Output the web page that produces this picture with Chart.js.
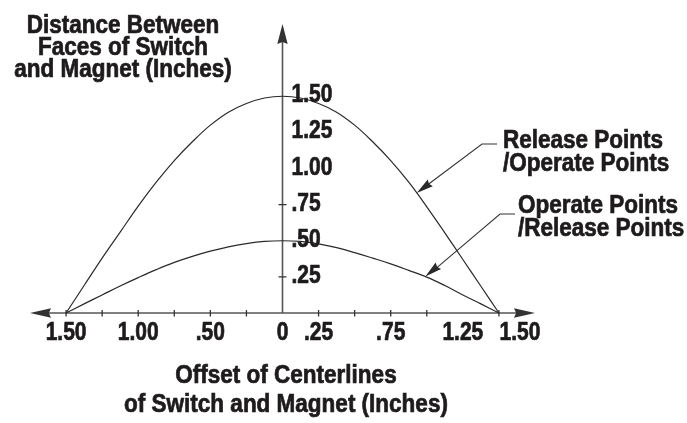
<!DOCTYPE html>
<html>
<head>
<meta charset="utf-8">
<script src="https://cdn.jsdelivr.net/npm/chart.js@4.4.1/dist/chart.umd.min.js"></script>
<style>
  html, body { margin: 0; padding: 0; background: #fff; }
  #chart { display: block; }
</style>
</head>
<body>
<canvas id="chart" width="687" height="423"></canvas>
<script>
// Offset of centerlines (inches)
const offsets = [-1.5, -1.375, -1.25, -1.125, -1.0, -0.875, -0.75, -0.625, -0.5, -0.375, -0.25, -0.125, 0,
                 0.125, 0.25, 0.375, 0.5, 0.625, 0.75, 0.875, 1.0, 1.125, 1.25, 1.375, 1.5];
// outer curve: Release Points / Operate Points
const releaseOperate = [0, 0.19, 0.38, 0.56, 0.74, 0.905, 1.055, 1.185, 1.30, 1.39, 1.45, 1.488, 1.5,
                        1.488, 1.45, 1.39, 1.30, 1.185, 1.055, 0.905, 0.735, 0.555, 0.37, 0.185, 0];
// inner curve: Operate Points / Release Points
const operateRelease = [0, 0.063, 0.125, 0.187, 0.245, 0.30, 0.35, 0.392, 0.428, 0.458, 0.48, 0.495, 0.5,
                        0.495, 0.478, 0.452, 0.418, 0.38, 0.34, 0.295, 0.248, 0.19, 0.125, 0.063, 0];

const xTicks = [-1.5, -1.25, -1, -0.75, -0.5, -0.25, 0.25, 0.5, 0.75, 1, 1.5];
const xLabelValues = [-1.5, -1, -0.5, 0, 0.25, 0.75, 1.25, 1.5];
const xLabels = ['1.50', '1.00', '.50', '0', '.25', '.75', '1.25', '1.50'];
const yTicks = [0.25, 0.75];
const yLabelValues = [1.5, 1.25, 1.0, 0.75, 0.5, 0.25];
const yLabels = ['1.50', '1.25', '1.00', '.75', '.50', '.25'];

const yTitle = ['Distance Between', 'Faces of Switch', 'and Magnet (Inches)'];
const xTitle = ['Offset of Centerlines', 'of Switch and Magnet (Inches)'];
const outerCallout = ['Release Points', '/Operate Points'];
const innerCallout = ['Operate Points', '/Release Points'];

// no narrow face installed, so Liberation Sans gets squeezed sideways
const FONT = "bold 25px 'Liberation Sans', Arial, sans-serif";
const INK = '#1e1b1c';
const TEXT_SQUEEZE = 0.9;
const TICK_SQUEEZE = 0.84;

function toPoints(ys) {
    return offsets.map((x, i) => ({ x, y: ys[i] }));
}

// linear lookup on a series, used to put the callout tips on the curves
function valueAt(ys, x) {
    for (let i = 0; i < offsets.length - 1; i++) {
        if (x >= offsets[i] && x <= offsets[i + 1]) {
            const t = (x - offsets[i]) / (offsets[i + 1] - offsets[i]);
            return ys[i] + t * (ys[i + 1] - ys[i]);
        }
    }
    return 0;
}

function stretchText(ctx, text, x, y, align, sx) {
    ctx.save();
    ctx.translate(x, y);
    ctx.scale(sx, 1);
    ctx.textAlign = align;
    ctx.fillText(text, 0, 0);
    // a thin outline makes it closer to the heavy condensed face of the original
    ctx.strokeStyle = INK;
    ctx.lineWidth = 0.7;
    ctx.strokeText(text, 0, 0);
    ctx.restore();
}

function arrowHead(ctx, tipX, tipY, fromX, fromY, len, half) {
    const a = Math.atan2(tipY - fromY, tipX - fromX);
    ctx.save();
    ctx.translate(tipX, tipY);
    ctx.rotate(a);
    ctx.beginPath();
    ctx.moveTo(0, 0);
    ctx.lineTo(-len, -half);
    ctx.lineTo(-len * 0.9, 0);
    ctx.lineTo(-len, half);
    ctx.closePath();
    ctx.fill();
    ctx.restore();
}

const axesPlugin = {
    id: 'crossAxes',
    beforeDatasetsDraw(chart) {
        const ctx = chart.ctx;
        const xs = chart.scales.x, ys = chart.scales.y;
        const x0 = xs.getPixelForValue(0);
        const y0 = ys.getPixelForValue(0);
        const left = xs.getPixelForValue(xs.min), right = xs.getPixelForValue(xs.max);
        const top = ys.getPixelForValue(ys.max);

        ctx.save();
        ctx.strokeStyle = '#555';
        ctx.lineWidth = 1.6;
        ctx.beginPath();
        ctx.moveTo(left + 15, y0);
        ctx.lineTo(right - 15, y0);
        ctx.moveTo(x0, y0);
        ctx.lineTo(x0, top + 15);
        ctx.stroke();

        ctx.lineWidth = 1.3;
        ctx.strokeStyle = '#333';
        ctx.beginPath();
        xTicks.forEach(v => {
            const px = xs.getPixelForValue(v);
            ctx.moveTo(px, y0 - 3);
            ctx.lineTo(px, y0 + 3.5);
        });
        yTicks.forEach(v => {
            const py = ys.getPixelForValue(v);
            ctx.moveTo(x0 - 4, py);
            ctx.lineTo(x0 + 4, py);
        });
        ctx.stroke();

        ctx.fillStyle = '#333';
        arrowHead(ctx, left, y0, left + 10, y0, 21, 4.8);
        arrowHead(ctx, right, y0, right - 10, y0, 21, 4.8);
        arrowHead(ctx, x0, top, x0, top + 10, 20, 5.2);
        ctx.restore();
    },
    afterDatasetsDraw(chart) {
        const ctx = chart.ctx;
        const xs = chart.scales.x, ys = chart.scales.y;
        const x0 = xs.getPixelForValue(0);
        const y0 = ys.getPixelForValue(0);

        ctx.save();
        ctx.fillStyle = INK;
        ctx.font = FONT;
        ctx.textBaseline = 'alphabetic';

        // tick labels
        xLabelValues.forEach((v, i) => {
            let px = xs.getPixelForValue(v);
            if (v === xs.max - 0.25) px += 21; // end label sits past the curve end
            stretchText(ctx, xLabels[i], px, y0 + 27, 'center', TICK_SQUEEZE);
        });
        yLabelValues.forEach((v, i) => {
            stretchText(ctx, yLabels[i], x0 + 9, ys.getPixelForValue(v) + 6, 'left', TICK_SQUEEZE);
        });

        // axis titles
        yTitle.forEach((t, i) => stretchText(ctx, t, 123, 33 + i * 21.8, 'center', TEXT_SQUEEZE));
        xTitle.forEach((t, i) => stretchText(ctx, t, 286, 383 + i * 28.5, 'center', TEXT_SQUEEZE));

        // callouts
        const callouts = [
            { lines: outerCallout, series: releaseOperate, at: 0.93, elbow: [482, 144], end: 497, tx: 503, ty: 148 },
            { lines: innerCallout, series: operateRelease, at: 0.99, elbow: [500, 214], end: 515, tx: 518, ty: 213 }
        ];
        callouts.forEach(c => {
            const tipX = xs.getPixelForValue(c.at);
            const tipY = ys.getPixelForValue(valueAt(c.series, c.at));
            ctx.strokeStyle = '#333';
            ctx.lineWidth = 1.1;
            ctx.beginPath();
            ctx.moveTo(c.end, c.elbow[1]);
            ctx.lineTo(c.elbow[0], c.elbow[1]);
            ctx.lineTo(tipX + 8, tipY - 6);
            ctx.stroke();
            ctx.fillStyle = '#2a2a2a';
            arrowHead(ctx, tipX, tipY, c.elbow[0], c.elbow[1], 17, 4.2);
            ctx.fillStyle = INK;
            c.lines.forEach((t, i) => stretchText(ctx, t, c.tx, c.ty + i * 23, 'left', TEXT_SQUEEZE));
        });
        ctx.restore();
    }
};

const ctx = document.getElementById('chart').getContext('2d');
const chart = new Chart(ctx, {
    type: 'scatter',
    data: {
        datasets: [{
            label: 'Release Points /Operate Points',
            data: toPoints(releaseOperate),
            showLine: true,
            borderColor: '#2a2a2a',
            borderWidth: 1.2,
            pointRadius: 0,
            tension: 0.4,
            clip: false
        }, {
            label: 'Operate Points /Release Points',
            data: toPoints(operateRelease),
            showLine: true,
            borderColor: '#2a2a2a',
            borderWidth: 1.2,
            pointRadius: 0,
            tension: 0.4,
            clip: false
        }]
    },
    options: {
        responsive: false,
        animation: false,
        devicePixelRatio: 1,
        layout: { padding: { left: 30, right: 152, top: 24, bottom: 110 } },
        scales: {
            x: { type: 'linear', min: -1.75, max: 1.75, display: false },
            y: { type: 'linear', min: 0, max: 2, display: false }
        },
        plugins: {
            legend: { display: false },
            tooltip: { enabled: false }
        }
    },
    plugins: [axesPlugin]
});
</script>
</body>
</html>
